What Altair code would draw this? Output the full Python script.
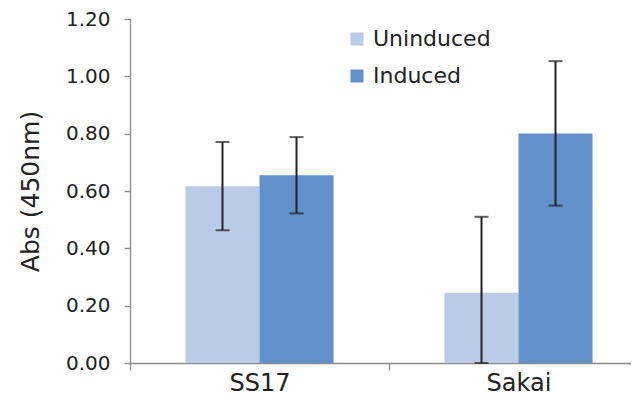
import altair as alt
import pandas as pd

strains = ["SS17", "Sakai"]
conditions = ["Uninduced", "Induced"]
uninduced_mean = [0.617, 0.245]
uninduced_err = [0.154, 0.265]
induced_mean = [0.655, 0.801]
induced_err = [0.133, 0.252]
y_ticks = [0.0, 0.2, 0.4, 0.6, 0.8, 1.0, 1.2]
colors = ["#B9CBE6", "#6190CB"]

rows = []
for i, s in enumerate(strains):
    for cond, m, e in (("Uninduced", uninduced_mean[i], uninduced_err[i]),
                       ("Induced", induced_mean[i], induced_err[i])):
        rows.append({"strain": s, "cond": cond, "mean": m,
                     "lo": max(0.0, m - e), "hi": m + e})
df = pd.DataFrame(rows)

FONT = "DejaVu Sans"
TXT = "#222222"
AX = "#8c8c8c"

x = alt.X("strain:N", sort=strains, title=None,
          scale=alt.Scale(paddingInner=0, paddingOuter=0, range=[0, 518]),
          axis=alt.Axis(labelAngle=0, labelFontSize=24, labelFont=FONT, labelColor=TXT,
                        tickBand="extent", tickSize=7, tickColor=AX, domainColor=AX,
                        domainWidth=1.3, tickWidth=1.3, labelBaseline="alphabetic",
                        labelPadding=20))
xo = alt.XOffset("cond:N", sort=conditions,
                 scale=alt.Scale(paddingOuter=0.75, paddingInner=0))
yscale = alt.Scale(domain=[0, 1.2], nice=False, clamp=True)

base = alt.Chart(df)

bars = base.mark_bar(size=74).encode(
    x=x,
    xOffset=xo,
    y=alt.Y("mean:Q", scale=yscale, title="Abs (450nm)",
            axis=alt.Axis(values=y_ticks, format=".2f", grid=False,
                          labelFontSize=20, labelFont=FONT, labelColor=TXT,
                          labelPadding=14, tickSize=6, tickColor=AX, tickWidth=1.3,
                          domainColor=AX, domainWidth=1.3,
                          titleFontSize=25, titleFont=FONT, titleColor=TXT,
                          titleFontWeight="normal", titlePadding=22)),
    color=alt.Color("cond:N", sort=conditions,
                    scale=alt.Scale(domain=conditions, range=colors),
                    legend=alt.Legend(title=None, orient="none", legendX=216, legendY=9,
                                      symbolType="square", symbolSize=169,
                                      symbolStrokeWidth=0, labelFontSize=22,
                                      labelFont=FONT, labelColor=TXT, labelOffset=5,
                                      rowPadding=15, padding=0)),
)

rule = base.mark_rule(color="#222222", strokeWidth=2).encode(
    x=x, xOffset=xo,
    y=alt.Y("lo:Q", scale=yscale), y2="hi:Q",
)
cap_hi = base.mark_tick(color="#222222", thickness=2, size=14).encode(
    x=x, xOffset=xo, y=alt.Y("hi:Q", scale=yscale),
)
cap_lo = base.mark_tick(color="#222222", thickness=2, size=14).encode(
    x=x, xOffset=xo, y=alt.Y("lo:Q", scale=yscale),
)

chart = alt.layer(bars, rule, cap_hi, cap_lo).properties(
    width=501, height=344,
    padding={"left": 122, "top": 11, "right": 0, "bottom": 32},
    autosize=alt.AutoSizeParams(type="none"),
).configure_view(stroke=None).configure_axis(domainCap="square")

chart.save("out.html", embed_options={"renderer": "svg", "actions": False})
